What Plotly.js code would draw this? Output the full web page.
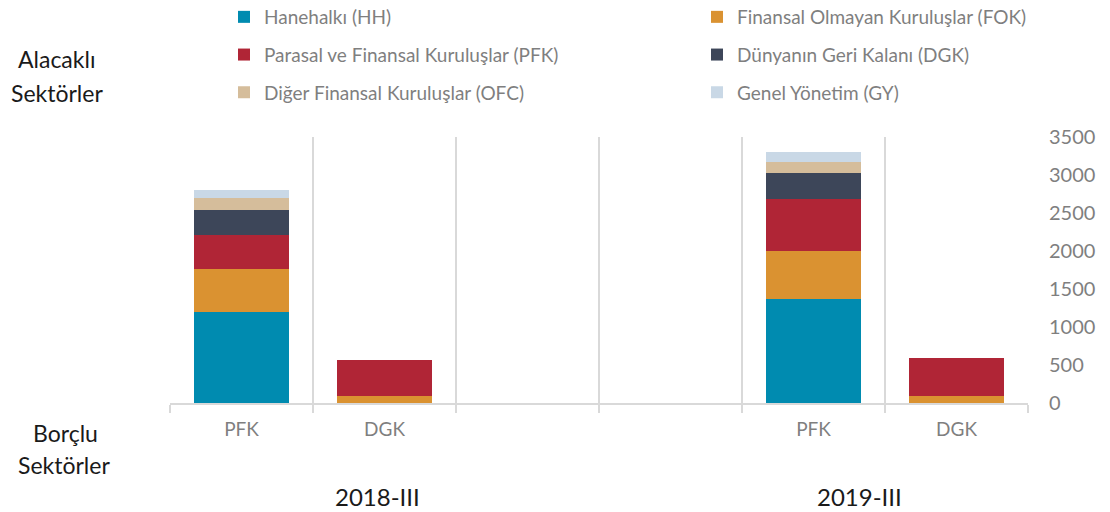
<!DOCTYPE html>
<html>
<head>
<meta charset="utf-8">
<script src="https://cdn.plot.ly/plotly-3.0.1.min.js"></script>
<style>html,body{margin:0;padding:0;background:#fff;}#chart{width:1110px;height:512px;}</style>
</head>
<body>
<div id="chart"></div>
<script>
// Borrower sectors per quarter
const quarters = ['2018-III', '2019-III'];
const borrowers = ['PFK', 'DGK'];
// Creditor sector series, order: 2018 PFK, 2018 DGK, 2019 PFK, 2019 DGK
const seriesNames = ['Hanehalkı (HH)', 'Finansal Olmayan Kuruluşlar (FOK)', 'Parasal ve Finansal Kuruluşlar (PFK)', 'Dünyanın Geri Kalanı (DGK)', 'Diğer Finansal Kuruluşlar (OFC)', 'Genel Yönetim (GY)'];
const HH  = [1195, 0, 1372, 0];
const FOK = [570, 88, 625, 92];
const PFK = [447, 473, 690, 505];
const DGK = [328, 0, 342, 0];
const OFC = [153, 0, 144, 0];
const GY  = [114, 0, 136, 0];
const yTicks = [0, 500, 1000, 1500, 2000, 2500, 3000, 3500];

const colors = ['#008BB0', '#DA9231', '#B02536', '#3D4659', '#D5BD9B', '#C9D8E6'];
const allSeries = [HH, FOK, PFK, DGK, OFC, GY];
const legendOf = ['legend', 'legend2', 'legend', 'legend2', 'legend', 'legend2'];

// categories: quarter|borrower, with two empty slots between quarters
const xCats = [];
quarters.forEach(q => borrowers.forEach(b => xCats.push(q + ' ' + b)));
const catArray = [xCats[0], xCats[1], 'gap1', 'gap2', xCats[2], xCats[3]];
const catText = [borrowers[0], borrowers[1], '', '', borrowers[0], borrowers[1]];

const traces = allSeries.map((vals, i) => ({
  type: 'bar',
  name: seriesNames[i],
  x: xCats.concat(['gap1', 'gap2']),
  y: vals.map(v => v === 0 ? null : v).concat([null, null]),
  marker: {color: colors[i], line: {width: 0}},
  width: 0.67,
  legend: legendOf[i],
  legendgroup: 'g' + i,
  hoverinfo: 'name+y'
}));

const grey = '#7f7f7f';
const px = p => (p - 170) / 858;
const py = p => (403 - p) / 266;

const layout = {
  width: 1110, height: 512,
  margin: {l: 170, r: 82, t: 137, b: 109, autoexpand: false},
  paper_bgcolor: '#ffffff', plot_bgcolor: '#ffffff',
  barmode: 'stack',
  font: {family: 'Lato, "Open Sans", sans-serif', color: grey},
  showlegend: true,
  xaxis: {
    type: 'category', categoryorder: 'array', categoryarray: catArray,
    range: [-0.5, 5.5],
    tickmode: 'array', tickvals: catArray, ticktext: catText,
    tickson: 'boundaries',
    ticks: 'outside', ticklen: 8, tickwidth: 2, tickcolor: '#d9d9d9',
    showgrid: true, gridcolor: '#d9d9d9', gridwidth: 2,
    showline: true, linecolor: '#d9d9d9', linewidth: 2,
    tickfont: {family: 'Lato, sans-serif', size: 19, color: grey},
    ticklabelstandoff: 8,
    zeroline: false, fixedrange: true
  },
  yaxis: {
    side: 'right', range: [0, 3500],
    tickmode: 'array', tickvals: yTicks,
    showgrid: false, zeroline: false, showline: false, ticks: '',
    tickfont: {family: 'Lato, sans-serif', size: 20, color: grey},
    ticklabelstandoff: 20, fixedrange: true
  },
  legend: {
    orientation: 'v', x: px(224), xanchor: 'left', y: py(-2), yanchor: 'top',
    traceorder: 'grouped', tracegroupgap: 10,
    font: {family: 'Lato, sans-serif', size: 19, color: grey},
    bgcolor: 'rgba(0,0,0,0)', borderwidth: 0
  },
  legend2: {
    orientation: 'v', x: px(697), xanchor: 'left', y: py(-2), yanchor: 'top',
    traceorder: 'grouped', tracegroupgap: 10,
    font: {family: 'Lato, sans-serif', size: 19, color: grey},
    bgcolor: 'rgba(0,0,0,0)', borderwidth: 0
  },
  annotations: [
    {text: 'Alacaklı', x: px(57), y: py(59), xref: 'paper', yref: 'paper', showarrow: false, xanchor: 'center', yanchor: 'middle', font: {family: 'Lato, sans-serif', size: 23, color: '#1a1a1a'}},
    {text: 'Sektörler', x: px(57), y: py(93), xref: 'paper', yref: 'paper', showarrow: false, xanchor: 'center', yanchor: 'middle', font: {family: 'Lato, sans-serif', size: 23, color: '#1a1a1a'}},
    {text: 'Borçlu', x: px(65), y: py(433), xref: 'paper', yref: 'paper', showarrow: false, xanchor: 'center', yanchor: 'middle', font: {family: 'Lato, sans-serif', size: 23, color: '#1a1a1a'}},
    {text: 'Sektörler', x: px(64), y: py(465), xref: 'paper', yref: 'paper', showarrow: false, xanchor: 'center', yanchor: 'middle', font: {family: 'Lato, sans-serif', size: 23, color: '#1a1a1a'}},
    {text: quarters[0], x: px(377.5), y: py(496), xref: 'paper', yref: 'paper', showarrow: false, xanchor: 'center', yanchor: 'middle', borderpad: 0, font: {family: 'Lato, sans-serif', size: 24, color: '#1a1a1a'}},
    {text: quarters[1], x: px(859), y: py(496), xref: 'paper', yref: 'paper', showarrow: false, xanchor: 'center', yanchor: 'middle', borderpad: 0, font: {family: 'Lato, sans-serif', size: 24, color: '#1a1a1a'}}
  ]
};

Plotly.newPlot('chart', traces, layout, {displayModeBar: false, staticPlot: true});
</script>
</body>
</html>
